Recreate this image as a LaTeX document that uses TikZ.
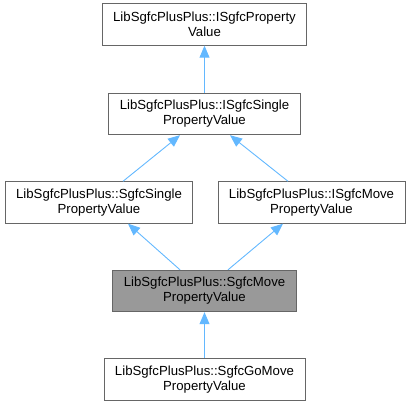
\documentclass[tikz,border=0pt]{standalone}
\usepackage{fontspec}
\setmainfont{Liberation Sans}
\usetikzlibrary{arrows.meta}
\definecolor{edgeblue}{HTML}{63B8FF}
\definecolor{boxline}{HTML}{666666}
\definecolor{boxgray}{HTML}{999999}
\begin{document}
\begin{tikzpicture}[x=1pt,y=-1pt,
  cls/.style={draw=boxline, line width=0.9pt, fill=white, align=center,
    inner xsep=11pt, inner ysep=0pt, minimum height=41.5pt,
    font=\fontsize{13.2}{15}\selectfont},
  cur/.style={cls, fill=boxgray},
  inh/.style={draw=edgeblue, line width=0.9pt,
    {Triangle[length=12pt,width=10pt,fill=edgeblue]}-}]
\useasboundingbox (0,0) rectangle (411,406);
\node[cls] (b1) at (204.5,24.5) {LibSgfcPlusPlus::ISgfcProperty\\Value};
\node[cls] (b2) at (204.5,114) {LibSgfcPlusPlus::ISgfcSingle\\PropertyValue};
\node[cls] (b3) at (99,202.5) {LibSgfcPlusPlus::SgfcSingle\\PropertyValue};
\node[cls] (b4) at (311.5,202.5) {LibSgfcPlusPlus::ISgfcMove\\PropertyValue};
\node[cur] (b5) at (204.5,291) {LibSgfcPlusPlus::SgfcMove\\PropertyValue};
\node[cls] (b6) at (204.5,379.5) {LibSgfcPlusPlus::SgfcGoMove\\PropertyValue};
\draw[inh] (b1.south) -- (b2.north);
\draw[inh] ([xshift=-24.5pt]b2.south) -- ([xshift=24pt]b3.north);
\draw[inh] ([xshift=25.5pt]b2.south) -- ([xshift=-23.5pt]b4.north);
\draw[inh] ([xshift=29pt]b3.south) -- ([xshift=-24.5pt]b5.north);
\draw[inh] ([xshift=-28.5pt]b4.south) -- ([xshift=23.5pt]b5.north);
\draw[inh] (b5.south) -- (b6.north);
\end{tikzpicture}
\end{document}
